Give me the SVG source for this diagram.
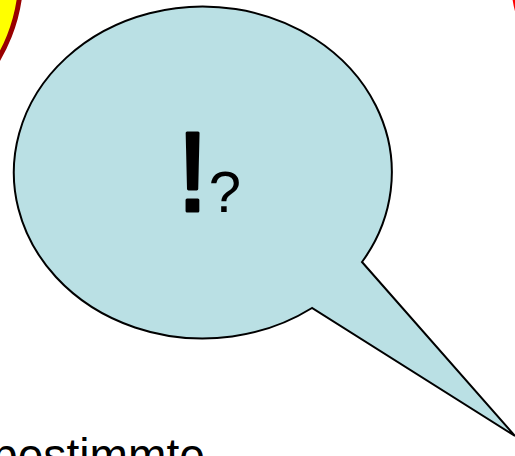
<svg xmlns="http://www.w3.org/2000/svg" width="515" height="456" viewBox="0 0 515 456">
  <style>
    .txt { font-family: "Liberation Sans", Arial, sans-serif; fill: #000; }
  </style>
  <rect x="0" y="0" width="515" height="456" fill="#fff"/>
  <g id="yellow-circle">
    <circle cx="-145" cy="-25" r="166" fill="#FFFF00" stroke="#990000" stroke-width="5"/>
  </g>
  <g id="red-circle">
    <circle cx="611" cy="-15" r="98" fill="none" stroke="#FF0000" stroke-width="3"/>
  </g>
  <g id="speech-bubble">
    <path d="M362,262 L515,436 L312,308 A189,166 0 1 1 362,262 Z" fill="#BAE0E4" stroke="#000" stroke-width="2" stroke-linejoin="miter"/>
    <text class="txt" x="192.5" y="211" font-size="114" text-anchor="middle" stroke="#000" stroke-width="3" stroke-linejoin="round">!</text>
    <text class="txt" x="225" y="212" font-size="58" text-anchor="middle">?</text>
  </g>
  <g id="connectors"></g>
  <g id="bottom-text">
    <text class="txt" x="-8" y="472" font-size="48" textLength="213" lengthAdjust="spacingAndGlyphs">bestimmte</text>
  </g>
</svg>
